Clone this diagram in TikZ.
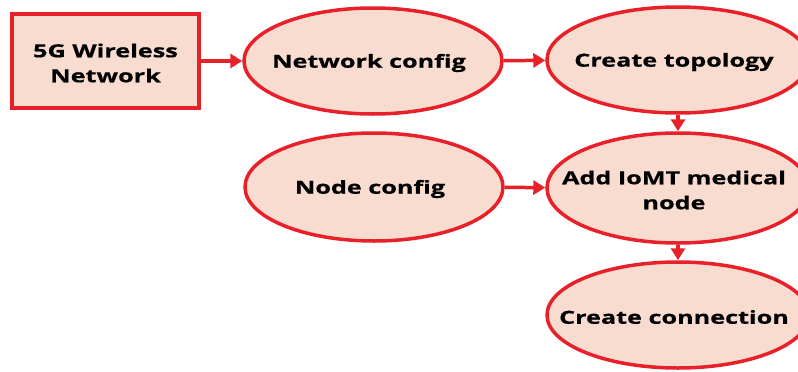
\documentclass[tikz,border=0pt]{standalone}
\usepackage{fontspec}
\newfontfamily\lbl[FakeStretch=1.4,FakeBold=0.6]{Open Sans}
\usetikzlibrary{arrows.meta,shapes.geometric}
\definecolor{edgered}{HTML}{E8202A}
\definecolor{peach}{HTML}{F8DCD0}
\tikzset{
  box/.style={draw=edgered,fill=peach,line width=4pt,minimum width=187pt,minimum height=94pt,inner sep=0pt},
  oval/.style={ellipse,draw=edgered,fill=peach,line width=3.5pt,minimum width=258pt,minimum height=106pt,inner sep=0pt},
  txt/.style={align=center,font=\lbl\bfseries\fontsize{18}{25}\selectfont,inner sep=0pt,yshift=-2pt},
  otxt/.style={txt,xshift=-4pt},
  conn/.style={draw=edgered,line width=3.5pt,-{Triangle[length=12pt,width=14pt]}}
}
\begin{document}
\begin{tikzpicture}[x=1pt,y=-1pt]
\useasboundingbox (0,0) rectangle (798,372);
\clip (0,0) rectangle (798,372);
\node[box] (net) at (105.5,61) {};
\node[txt] (netT) at (net.center) {5G Wireless\\Network};
\node[oval] (nc) at (373,61) {};
\node[otxt] (ncT) at (nc.center) {Network config};
\node[oval,minimum width=262pt] (ct) at (678,60) {};
\node[otxt] (ctT) at (ct.center) {Create topology};
\node[oval,minimum height=108pt] (nd) at (374,187) {};
\node[otxt] (ndT) at (nd.center) {Node config};
\node[oval,minimum width=262pt,minimum height=110pt] (ad) at (678,188) {};
\node[otxt] (adT) at (ad.center) {Add IoMT medical\\node};
\node[oval,minimum width=262pt] (cc) at (678,315) {};
\node[otxt] (ccT) at (cc.center) {Create connection};
\draw[conn] (net) -- (nc);
\draw[conn] (nc) -- (ct);
\draw[conn] (ct) -- (ad);
\draw[conn] (nd) -- (ad);
\draw[conn] (ad) -- (cc);
\end{tikzpicture}
\end{document}
